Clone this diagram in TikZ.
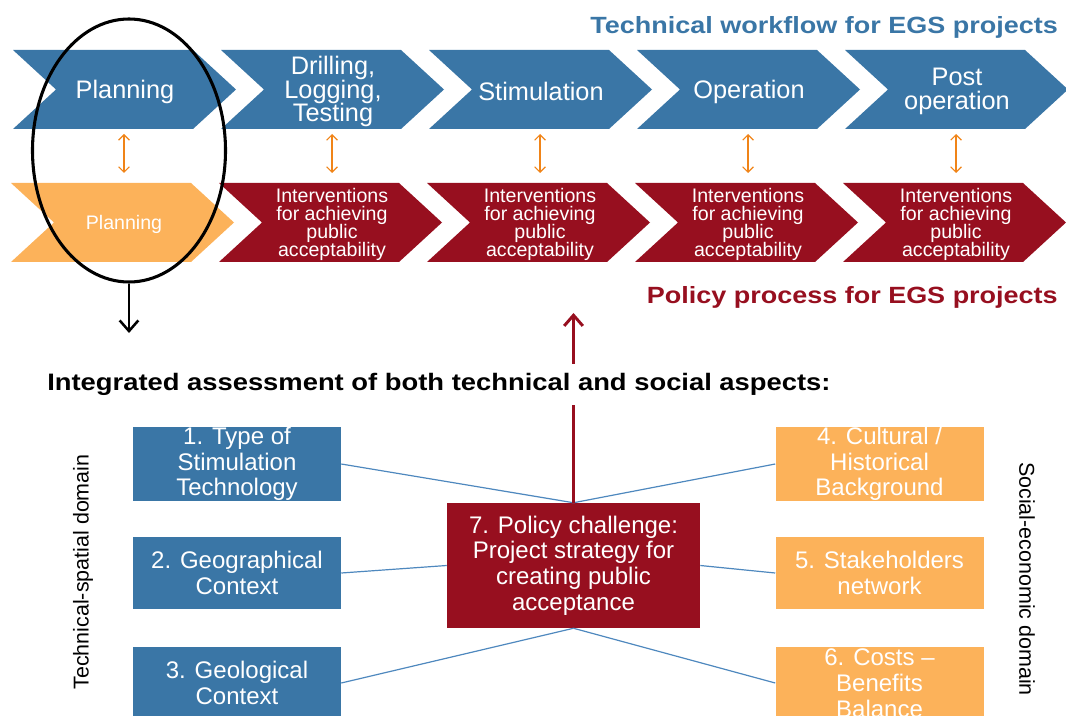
\documentclass[tikz,border=0pt]{standalone}
\usepackage{fontspec}
\setmainfont{Liberation Sans}
\newfontfamily\widefont{Liberation Sans}[FakeStretch=1.15]
\usetikzlibrary{arrows.meta,shapes.geometric}

\definecolor{techblue}{RGB}{58,118,166}
\definecolor{policyred}{RGB}{151,15,31}
\definecolor{planorange}{RGB}{252,178,90}
\definecolor{linkorange}{RGB}{240,132,24}
\definecolor{linkblue}{RGB}{78,136,190}

\setlength{\lineskiplimit}{-20pt}
\newcommand{\interv}{Interventions\\for achieving\\public\\acceptability}

\tikzset{
  steptext/.style={text=white, align=center, inner sep=0pt, font=\fontsize{19}{17.5}\selectfont},
  acttext/.style={text=white, align=center, inner sep=0pt, font=\fontsize{14.7}{13.7}\selectfont},
  factor/.style={rectangle, text=white, align=center, inner sep=0pt,
    minimum width=156pt, minimum height=54pt, font=\fontsize{18}{19.3}\selectfont},
  headline/.style={inner sep=0pt, font=\widefont\bfseries\fontsize{17.6}{20}\selectfont},
  sidelabel/.style={inner sep=0pt, font=\fontsize{16.1}{18}\selectfont},
  updown/.style={linkorange, line width=0.9pt,
    {Straight Barb[length=4pt,width=8pt]}-{Straight Barb[length=4pt,width=8pt]}},
  link/.style={linkblue, line width=0.9pt}
}

\begin{document}
\begin{tikzpicture}[x=0.75pt,y=0.75pt,yscale=-1,xscale=1]
    \useasboundingbox (0,0) rectangle (1066,716);

    % technical workflow
    \foreach \xo/\lab [count=\i] in {13/Planning, 221/{Drilling,\\Logging,\\Testing}, 429/Stimulation, 637/Operation, 845/{Post\\operation}}{
        \fill[techblue] (\xo,50) -- (\xo+180,50) -- (\xo+223,89.5) -- (\xo+180,129) -- (\xo,129) -- (\xo+43,89.5) -- cycle;
        \node[steptext] (tech\i) at (\xo+112,91.5) {\lab};
        \coordinate (techdn\i) at (\xo+111,134);
    }

    % policy process
    \foreach \xo/\col/\lab [count=\i] in {11/planorange/Planning, 219/policyred/\interv, 427/policyred/\interv, 635/policyred/\interv, 843/policyred/\interv}{
        \fill[\col] (\xo,183) -- (\xo+180,183) -- (\xo+223,222.5) -- (\xo+180,262) -- (\xo,262) -- (\xo+43,222.5) -- cycle;
        \node[acttext] (act\i) at (\xo+113,224.5) {\lab};
        \coordinate (actup\i) at (\xo+113,173);
    }

    \foreach \i in {1,...,5}
        \draw[updown] (techdn\i) -- (actup\i);

    \node[headline, text=techblue, anchor=base east] (techtitle) at (1058,34) {Technical workflow for EGS projects};
    \node[headline, text=policyred, anchor=base east] (policytitle) at (1058,304) {Policy process for EGS projects};

    % planning phase in focus
    \node[draw, ellipse, line width=2.3pt, inner sep=0pt, minimum width=144.75pt, minimum height=197.25pt] (focus) at (129,150.5) {};
    \coordinate (focusout) at (129,333);
    \draw[line width=1.9pt, -{Straight Barb[length=8pt,width=14pt]}] (focus.south) -- (focusout);

    % assessment factors
    \node[factor, fill=techblue] (f1) at (237,464) {1. Type of\\Stimulation\\Technology};
    \node[factor, fill=techblue] (f2) at (237,573) {2. Geographical\\Context};
    \node[factor, fill=techblue] (f3) at (237,683) {3. Geological\\Context};
    \node[factor, fill=planorange] (f4) at (879.5,464) {4. Cultural /\\Historical\\Background};
    \node[factor, fill=planorange] (f5) at (879.5,573) {5. Stakeholders\\network};
    \node[factor, fill=planorange] (f6) at (879.5,683) {6. Costs --\\Benefits\\Balance};
    \node[factor, fill=policyred, minimum width=189.75pt, minimum height=93.75pt] (challenge) at (573.5,565.5) {7. Policy challenge:\\Project strategy for\\creating public\\acceptance};

    \draw[link] (f1.east) -- (challenge.north);
    \draw[link] (f2.east) -- (challenge.west);
    \draw[link] (f3.east) -- (challenge.south);
    \draw[link] (f4.west) -- (challenge.north);
    \draw[link] (f5.west) -- (challenge.east);
    \draw[link] (f6.west) -- (challenge.south);

    \coordinate (policyin) at (573.5,313);
    \draw[policyred, line width=2.2pt, -{Straight Barb[length=8pt,width=14pt]}] (challenge.north) -- (policyin);
    \node[headline, fill=white, minimum height=30.75pt, anchor=west, font=\widefont\bfseries\fontsize{17.85}{20}\selectfont] (assess) at (47,384.5) {Integrated assessment of both technical and social aspects:};

    \node[sidelabel, rotate=90] (techdomain) at (83,572) {Technical-spatial domain};
    \node[sidelabel, rotate=-90] (socdomain) at (1027,579) {Social-economic domain};
\end{tikzpicture}
\end{document}
